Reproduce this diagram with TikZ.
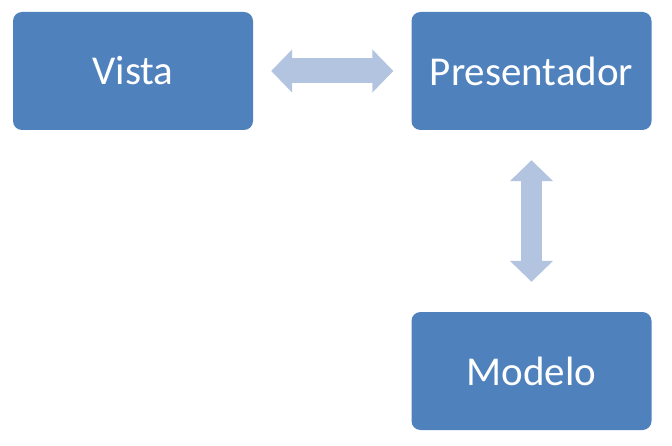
\documentclass[tikz,border=0pt]{standalone}
\usepackage{fontspec}
\setmainfont{Carlito}
\usetikzlibrary{shapes, arrows, arrows.meta}
\definecolor{boxblue}{RGB}{79,129,189}
\definecolor{arrowblue}{RGB}{179,196,224}
\tikzstyle{block} = [rectangle, rounded corners=9pt, minimum width=240pt, minimum height=118pt, text centered, fill=boxblue, text=white, font=\fontsize{41}{49}\selectfont]
\tikzstyle{fatarrow} = [draw=arrowblue, {Triangle[width=42pt,length=21pt]}-{Triangle[width=42pt,length=21pt]}]

\begin{document}
\begin{tikzpicture}[x=1pt, y=1pt]
\useasboundingbox (0,0) rectangle (672,445);
\node[block] (vista) at (133,374) {Vista};
\node[block] (presentador) at (531.5,374) {Presentador};
\node[block] (modelo) at (531.5,74) {Modelo};
\draw[fatarrow, line width=25pt, shorten <=18pt, shorten >=18pt] (vista) -- (presentador);
\draw[fatarrow, line width=21pt, shorten <=30pt, shorten >=30pt] (presentador) -- (modelo);
\end{tikzpicture}
\end{document}
